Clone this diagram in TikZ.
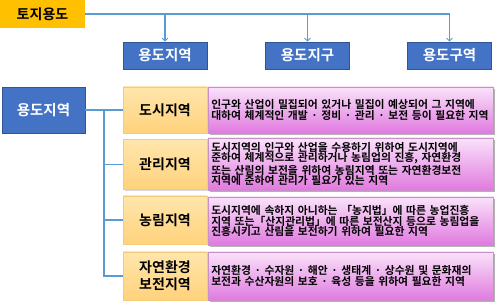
\documentclass[tikz,border=0pt]{standalone}
\usepackage{fontspec}
\setmainfont{Noto Sans CJK KR}[BoldFont={Noto Sans CJK KR Bold}]
\usetikzlibrary{shadows,arrows.meta}
\definecolor{ln}{HTML}{5B9BD5}
\definecolor{bluefill}{HTML}{4472C4}
\definecolor{blueedge}{HTML}{2F5597}
\definecolor{gold}{HTML}{FFC000}
\definecolor{ortop}{HTML}{FFE6AC}
\definecolor{orbot}{HTML}{FFD27C}
\definecolor{oredge}{HTML}{F5CB7A}
\definecolor{pktop}{HTML}{FAE2FA}
\definecolor{pkmid}{HTML}{F5CCF5}
\definecolor{pkbot}{HTML}{E07ADF}
\definecolor{pkedge}{HTML}{C890C8}
\tikzset{
  topbox/.style={fill=gold, inner sep=0pt, minimum width=85pt, minimum height=28pt,
    font=\fontsize{14}{16}\selectfont\bfseries},
  bluebox/.style={fill=bluefill, draw=blueedge, line width=0.5pt, inner sep=0pt,
    text=white, font=\fontsize{14.5}{16}\selectfont\bfseries},
  orbox/.style={top color=ortop, bottom color=orbot, draw=oredge, line width=0.5pt,
    inner sep=0pt, minimum width=84pt, align=center,
    font=\fontsize{14}{17}\selectfont\bfseries,
    drop shadow={shadow xshift=1.5pt, shadow yshift=-1.5pt, fill=black, opacity=0.15}},
  pkbox/.style={top color=pktop, middle color=pkmid, bottom color=pkbot, draw=pkedge,
    line width=0.5pt, inner xsep=3pt, inner ysep=0pt, text width=279pt, align=left,
    font=\fontsize{10.8}{10.7}\selectfont\bfseries,
    drop shadow={shadow xshift=2pt, shadow yshift=-2pt, fill=black, opacity=0.3}},
  conn/.style={draw=ln, line width=1.2pt},
  arr/.style={conn, -{Straight Barb[length=3pt,width=6pt,line width=1pt]}}
}
\begin{document}
\begin{tikzpicture}[x=1pt,y=-1pt]
\useasboundingbox (0,0) rectangle (499,307);
% top level
\node[topbox] (land) at (42.5,14) {토지용도};
\node[bluebox, minimum width=84pt, minimum height=27pt] (ya) at (165,55.5) {용도지역};
\node[bluebox, minimum width=84pt, minimum height=27pt] (yj) at (307.5,55.5) {용도지구};
\node[bluebox, minimum width=84pt, minimum height=27pt] (yg) at (449.5,55.5) {용도구역};
\coordinate (tr) at (449.5,14);
\draw[conn] (land.east) -- (tr);
\draw[arr] (ya.north |- land.east) -- (ya.north);
\draw[arr] (yj.north |- land.east) -- (yj.north);
\draw[arr] (tr) -- (yg.north);
% left
\node[bluebox, minimum width=83pt, minimum height=46pt] (yl) at (43.5,110) {용도지역};
% orange boxes
\node[orbox, minimum height=46pt] (o1) at (165,110) {도시지역};
\node[orbox, minimum height=50pt] (o2) at (165,164.5) {관리지역};
\node[orbox, minimum height=48pt] (o3) at (165,220) {농림지역};
\node[orbox, minimum height=48pt] (o4) at (165,276) {자연환경\\보전지역};
% pink boxes
\node[pkbox, minimum height=46pt, anchor=west] (p1) at (208,110)
  {인구와 산업이 밀집되어 있거나 밀집이 예상되어 그 지역에\\
   대하여 체계적인 개발 · 정비 · 관리 · 보전 등이 필요한 지역};
\node[pkbox, minimum height=52pt, anchor=west] (p2) at (208,164)
  {도시지역의 인구와 산업을 수용하기 위하여 도시지역에\\
   준하여 체계적으로 관리하거나 농림업의 진흥, 자연환경\\
   또는 산림의 보전을 위하여 농림지역 또는 자연환경보전\\
   지역에 준하여 관리가 필요가 있는 지역};
\node[pkbox, minimum height=48pt, anchor=west] (p3) at (208,221)
  {도시지역에 속하지 아니하는 「농지법」에 따른 농업진흥\\
   지역 또는「산지관리법」에 따른 보전산지 등으로 농림업을\\
   진흥시키고 산림을 보전하기 위하여 필요한 지역};
\node[pkbox, minimum height=48pt, anchor=west] (p4) at (208,276)
  {자연환경 · 수자원 · 해안 · 생태계 · 상수원 및 문화재의\\
   보전과 수산자원의 보호 · 육성 등을 위하여 필요한 지역};
% tree connectors
\coordinate (t1) at (104,110);
\coordinate (t4) at (104,276);
\draw[conn] (yl.east) -- (o1.west);
\draw[conn] (t1) -- (t4) -- (o4.west);
\draw[conn] (t1 |- o2.west) -- (o2.west);
\draw[conn] (t1 |- o3.west) -- (o3.west);
\end{tikzpicture}
\end{document}
